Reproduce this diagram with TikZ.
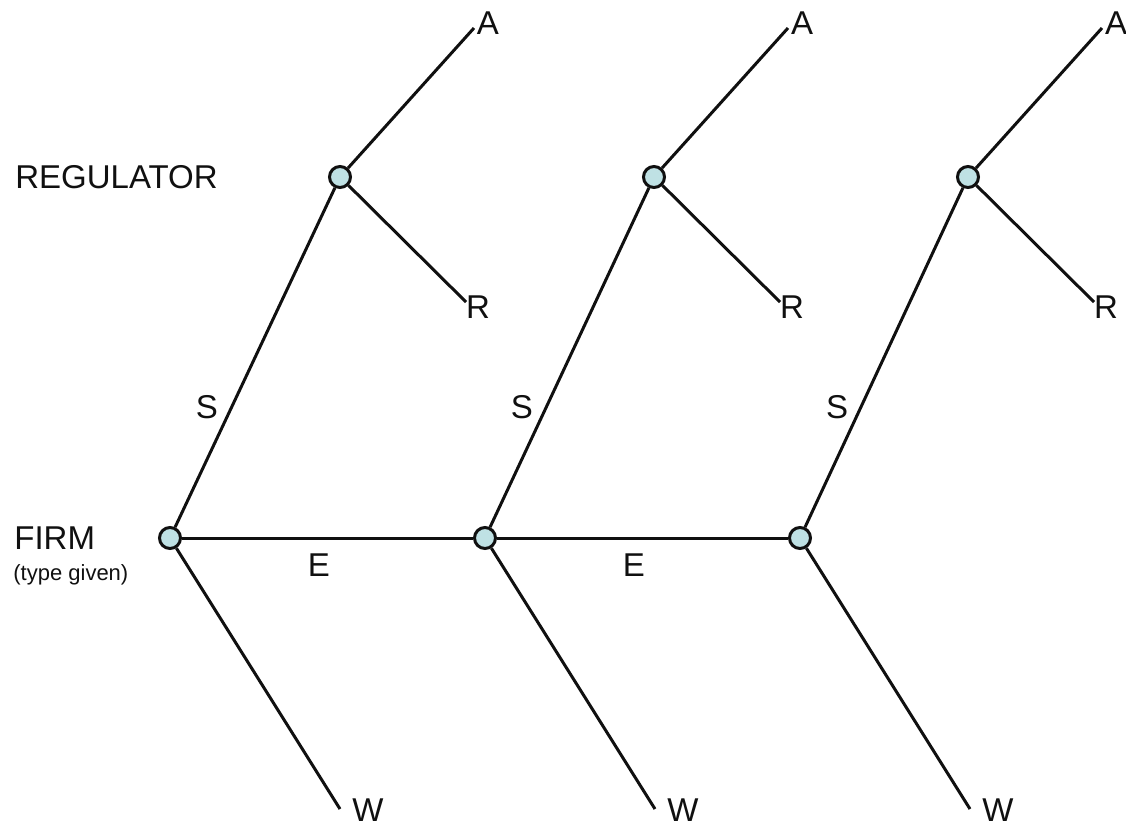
\documentclass[tikz,border=0pt]{standalone}
\usepackage{fontspec}
\setmainfont{Liberation Sans}
\usetikzlibrary{positioning}
\definecolor{NodeFill}{HTML}{BFE1E4}
\definecolor{LineDark}{HTML}{101010}

\begin{document}
\begin{tikzpicture}[x=0.5pt, y=-0.5pt,
    decision/.style={circle, draw=LineDark, line width=1.5pt, fill=NodeFill, minimum size=10.5pt, inner sep=0pt},
    branch/.style={draw=LineDark, line width=1.5pt},
    lbl/.style={font=\fontsize{16.5}{19}\selectfont, inner sep=0pt, text=LineDark}]
  \useasboundingbox (0,0) rectangle (1126,826);

  % Player names
  \node[lbl, anchor=west] (regulator) at (15,177) {REGULATOR};
  \node[lbl, anchor=west] (firm) at (14,538) {FIRM};
  \node[font=\fontsize{11}{13}\selectfont, inner sep=0pt, anchor=west, text=LineDark] (type) at (13,575) {(type given)};

  % Decision nodes
  \node[decision] (f1) at (170,538) {};
  \node[decision] (f2) at (485,538) {};
  \node[decision] (f3) at (800,538) {};
  \node[decision] (g1) at (340,177) {};
  \node[decision] (g2) at (654,177) {};
  \node[decision] (g3) at (968,177) {};

  % Branch ends
  \coordinate (a1) at (474,28);
  \coordinate (a2) at (788,28);
  \coordinate (a3) at (1102,28);
  \coordinate (r1) at (466,302);
  \coordinate (r2) at (780,302);
  \coordinate (r3) at (1094,302);
  \coordinate (w1) at (340,809);
  \coordinate (w2) at (655,809);
  \coordinate (w3) at (970,809);

  % Branches
  \draw[branch] (f1) -- (f2);
  \draw[branch] (f2) -- (f3);
  \draw[branch] (f1) -- (g1);
  \draw[branch] (f2) -- (g2);
  \draw[branch] (f3) -- (g3);
  \draw[branch] (f1) -- (w1);
  \draw[branch] (f2) -- (w2);
  \draw[branch] (f3) -- (w3);
  \draw[branch] (g1) -- (a1);
  \draw[branch] (g2) -- (a2);
  \draw[branch] (g3) -- (a3);
  \draw[branch] (g1) -- (r1);
  \draw[branch] (g2) -- (r2);
  \draw[branch] (g3) -- (r3);

  % Outcome labels
  \node[lbl] (la1) at ([shift={(14,-5)}]a1) {A};
  \node[lbl] (la2) at ([shift={(14,-5)}]a2) {A};
  \node[lbl] (la3) at ([shift={(14,-5)}]a3) {A};
  \node[lbl] (lr1) at ([shift={(12,5)}]r1) {R};
  \node[lbl] (lr2) at ([shift={(12,5)}]r2) {R};
  \node[lbl] (lr3) at ([shift={(12,5)}]r3) {R};
  \node[lbl] (lw1) at ([shift={(28,1)}]w1) {W};
  \node[lbl] (lw2) at ([shift={(28,1)}]w2) {W};
  \node[lbl] (lw3) at ([shift={(28,1)}]w3) {W};

  % Move labels
  \node[lbl] (s1) at (207,407) {S};
  \node[lbl] (s2) at (522,407) {S};
  \node[lbl] (s3) at (837,407) {S};
  \node[lbl] (e1) at (319,565) {E};
  \node[lbl] (e2) at (634,565) {E};
\end{tikzpicture}
\end{document}
